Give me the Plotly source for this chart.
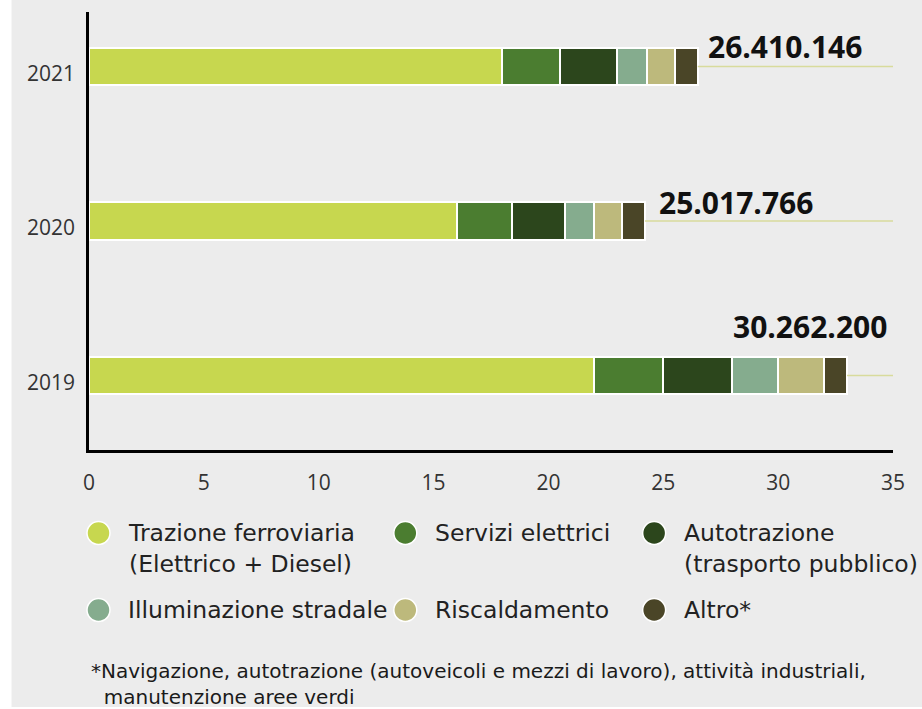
import plotly.graph_objects as go

# data
years = ["2019", "2020", "2021"]
series_names = [
    "Trazione ferroviaria<br>(Elettrico + Diesel)",
    "Servizi elettrici",
    "Autotrazione<br>(trasporto pubblico)",
    "Illuminazione stradale",
    "Riscaldamento",
    "Altro*",
]
trazione = [22.0, 16.0, 18.0]
servizi = [3.0, 2.4, 2.5]
autotrazione = [3.0, 2.3, 2.5]
illuminazione = [2.0, 1.3, 1.3]
riscaldamento = [2.0, 1.2, 1.2]
altro = [1.0, 1.0, 1.0]
total_labels = ["30.262.200", "25.017.766", "26.410.146"]
footnote = ("*Navigazione, autotrazione (autoveicoli e mezzi di lavoro), attività industriali,<br>"
            "  manutenzione aree verdi")

colors = ["#c7d74f", "#4b7d30", "#2c461c", "#85ac8e", "#bdb97c", "#4a4527"]
line_color = "#d8db9c"
bg = "#ececec"
font = "Open Sans"
legend_font = "DejaVu Sans"

series = [trazione, servizi, autotrazione, illuminazione, riscaldamento, altro]
totals = [sum(s[i] for s in series) for i in range(len(years))]

# pixel helpers (plot area: x 88.5..893, y 12..450)
L, R, T, B = 88.5, 893.0, 12.0, 450.0
def px(x):
    return (x - L) / (R - L)
def py(y):
    return (B - y) / (B - T)

fig = go.Figure()

for name, vals, col in zip(series_names, series, colors):
    fig.add_trace(go.Bar(
        y=years, x=vals, name=name, orientation="h",
        marker=dict(color=col, line=dict(color="white", width=2)),
        width=0.245, showlegend=False, hoverinfo="skip",
    ))

# leader lines from bar end to right edge
for yr, tot in zip(years, totals):
    fig.add_trace(go.Scatter(
        x=[tot, 35], y=[yr, yr], mode="lines",
        line=dict(color=line_color, width=1.5),
        showlegend=False, hoverinfo="skip", cliponaxis=False,
    ))

annotations = []
# total labels (y given as category index)
label_pos = {"2021": (26.85, 20), "2020": (24.72, 19), "2019": (27.95, 49)}
for i, (yr, txt) in enumerate(zip(years, total_labels)):
    x, shift = label_pos[yr]
    annotations.append(dict(
        x=x, y=i, xref="x", yref="y", text="<b>" + txt + "</b>", showarrow=False,
        xanchor="left", yanchor="middle", yshift=shift,
        font=dict(family=font, size=30, color="#111111"),
    ))

# custom legend
shapes = [dict(type="rect", xref="paper", yref="paper", x0=px(11), x1=px(930),
               y0=py(707), y1=py(-5), fillcolor=bg, line_width=0, layer="below")]
cols_x = [98, 405, 654]
rows_y = [533, 610]
for i, (name, col) in enumerate(zip(series_names, colors)):
    cx = cols_x[i % 3]
    cy = rows_y[i // 3]
    shapes.append(dict(type="circle", xref="paper", yref="paper",
                       x0=px(cx - 11.5), x1=px(cx + 11.5), y0=py(cy + 11.5), y1=py(cy - 11.5),
                       fillcolor=col, line=dict(color="white", width=1.5)))
    annotations.append(dict(
        x=px(cx + 28), y=py(cy - 16), xref="paper", yref="paper", text=name,
        showarrow=False, xanchor="left", yanchor="top", align="left",
        font=dict(family=legend_font, size=23.5, color="#222222"),
    ))

annotations.append(dict(
    x=px(89), y=py(657), xref="paper", yref="paper", text=footnote,
    showarrow=False, xanchor="left", yanchor="top", align="left",
    font=dict(family=legend_font, size=20, color="#1a1a1a"),
))

fig.update_layout(
    width=922, height=709,
    margin=dict(l=L, r=922 - R, t=T, b=709 - B, pad=0),
    paper_bgcolor="white", plot_bgcolor=bg,
    barmode="stack", bargap=0,
    font=dict(family=font, size=21, color="#333333"),
    xaxis=dict(range=[0, 35], tickvals=[0, 5, 10, 15, 20, 25, 30, 35],
               showgrid=False, zeroline=False, showline=True, linecolor="black",
               linewidth=2.5, ticks="", ticklabelstandoff=12, layer="below traces",
               tickfont=dict(family=font, size=21, color="#333333")),
    yaxis=dict(type="category", range=[-0.482, 2.353], showgrid=False, zeroline=False,
               showline=True, linecolor="black", linewidth=2.5, ticks="",
               ticklabelstandoff=7, ticklabelshift=7, layer="below traces",
               tickfont=dict(family=font, size=21, color="#333333")),
    shapes=shapes,
    annotations=annotations,
)

fig.write_html("out.html", config={"displayModeBar": False},
               post_script="document.body.style.margin='0';")
